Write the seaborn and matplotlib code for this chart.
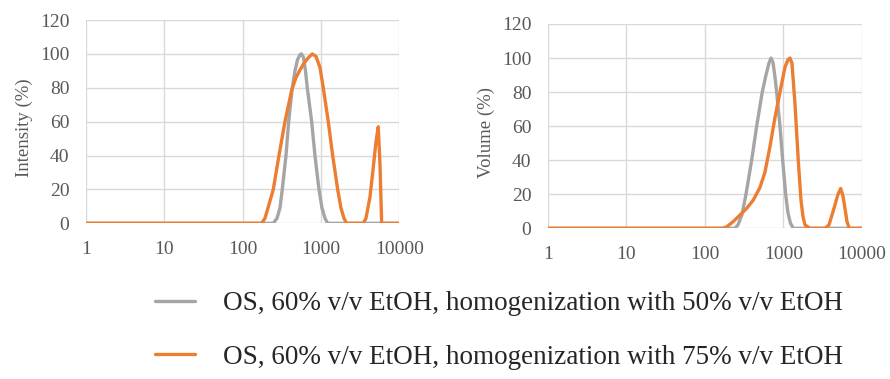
"""
plot.py — DLS size distributions (intensity & volume) for two OS samples
"""

import pandas as pd
import matplotlib
matplotlib.use("Agg")
import matplotlib.pyplot as plt
import seaborn as sns

# ─────────────────────────────────────────────
# DATA (size in nm, distribution in %)
# ─────────────────────────────────────────────
# Intensity, homogenization with 50% v/v EtOH
INT50_SIZE = [0.96, 246.7, 275.0, 300.4, 321.4, 358.4, 388.0, 431.2, 467.0,
              502.5, 540.9, 565.3, 599.6, 635.9, 670.5, 762.9, 840.6, 945.6,
              1033, 1128, 1221, 10000]
INT50_VAL = [0, 0, 3, 9, 20, 40, 60, 80, 90,
             96.5, 99.5, 100, 98, 90, 80, 60, 40, 20,
             9, 3, 0, 0]

# Intensity, homogenization with 75% v/v EtOH
INT75_SIZE = [0.96, 175.4, 193.2, 211.1, 246.7, 291.6, 347.9, 423.7, 480.8,
              540.9, 608.5, 684.3, 776.7, 865.8, 973.9, 1073, 1243, 1415,
              1639, 1806, 1972, 2136, 3479, 3767, 4238, 4669, 5053, 5409,
              5686, 5977, 10000]
INT75_VAL = [0, 0, 3, 9, 20, 40, 60, 78.5, 86,
             90.5, 94.5, 97.5, 100, 98.5, 92, 80, 60, 40,
             20, 9, 3, 0, 0, 3, 15.5, 33, 48, 57,
             35, 0, 0]

# Volume, homogenization with 50% v/v EtOH
VOL50_SIZE = [0.96, 241.2, 263.3, 296.0, 332.9, 393.4, 455.6, 537.0, 598.6,
              653.7, 693.1, 734.9, 779.3, 819.2, 902.6, 976.8, 1067, 1141,
              1228, 1333, 10000]
VOL50_VAL = [0, 0, 2, 8, 20, 40, 60, 80, 90,
             97, 100, 97.5, 89, 80, 60, 40, 20, 9,
             3, 0, 0]

# Volume, homogenization with 75% v/v EtOH
VOL75_SIZE = [0.96, 169.6, 190.7, 229.4, 279.2, 339.8, 412.4, 501.9, 581.2,
              673.0, 779.3, 902.6, 1045, 1141, 1210, 1283, 1402, 1543,
              1671, 1772, 1879, 2176, 3379, 3799, 4398, 4948, 5355, 5728,
              6074, 6441, 6889, 10000]
VOL75_VAL = [0, 0, 1, 4, 7.8, 11.7, 16.6, 24, 33,
             48, 65, 80, 94.6, 99, 100, 97, 73, 40,
             16.6, 7, 2, 0, 0, 2, 11.7, 20, 23.4, 19,
             11.7, 4, 0, 0]

LABEL_50 = "OS, 60% v/v EtOH, homogenization with 50% v/v EtOH"
LABEL_75 = "OS, 60% v/v EtOH, homogenization with 75% v/v EtOH"

X_TICKS = [1, 10, 100, 1000, 10000]
Y_TICKS = [0, 20, 40, 60, 80, 100, 120]

GREY   = "#A5A5A5"
ORANGE = "#ED7D31"
TEXT_C = "#595959"

# ─────────────────────────────────────────────
# STYLE
# ─────────────────────────────────────────────
sns.set_style("white")
plt.rcParams["font.family"] = ["Liberation Serif", "DejaVu Serif"]

fig = plt.figure(figsize=(8.9, 3.79), dpi=100)
ax_int = fig.add_axes([0.0966, 0.4108, 0.3519, 0.5364])
ax_vol = fig.add_axes([0.6157, 0.3976, 0.3528, 0.5391])


def draw_panel(ax, size50, val50, size75, val75, ylabel):
    d50 = pd.DataFrame({"size": size50, "pct": val50})
    d75 = pd.DataFrame({"size": size75, "pct": val75})
    sns.lineplot(data=d50, x="size", y="pct", ax=ax, color=GREY, linewidth=2.4,
                 label=LABEL_50, solid_joinstyle="round", sort=False)
    sns.lineplot(data=d75, x="size", y="pct", ax=ax, color=ORANGE, linewidth=2.4,
                 label=LABEL_75, solid_joinstyle="round", sort=False)
    ax.set_xscale("log")
    ax.set_xlim(1, 10000)
    ax.set_ylim(0, 120)
    ax.set_xticks(X_TICKS)
    ax.set_xticklabels([str(t) for t in X_TICKS])
    ax.set_yticks(Y_TICKS)
    ax.minorticks_off()
    ax.grid(True, color="#D9D9D9", linewidth=1.0)
    ax.set_axisbelow(True)
    for sp in ax.spines.values():
        sp.set_visible(False)
    ax.tick_params(axis="both", length=0, labelsize=14, colors=TEXT_C)
    ax.tick_params(axis="y", pad=12)
    ax.tick_params(axis="x", pad=13)
    ax.set_xlabel("")
    ax.set_ylabel(ylabel, fontsize=13.5, color=TEXT_C, labelpad=8)
    ax.yaxis.set_label_coords(-0.17, 0.47)
    ax.get_legend().remove()


draw_panel(ax_int, INT50_SIZE, INT50_VAL, INT75_SIZE, INT75_VAL, "Intensity (%)")
draw_panel(ax_vol, VOL50_SIZE, VOL50_VAL, VOL75_SIZE, VOL75_VAL, "Volume (%)")

# ── shared legend below the panels ──
handles, labels = ax_int.get_legend_handles_labels()
fig.legend(handles, labels, loc="center left", bbox_to_anchor=(0.174, 0.128),
           frameon=False, fontsize=19.5, handlelength=1.5, handletextpad=1.0,
           labelspacing=1.05, borderpad=0, borderaxespad=0)

fig.savefig("out.png", dpi=100)
